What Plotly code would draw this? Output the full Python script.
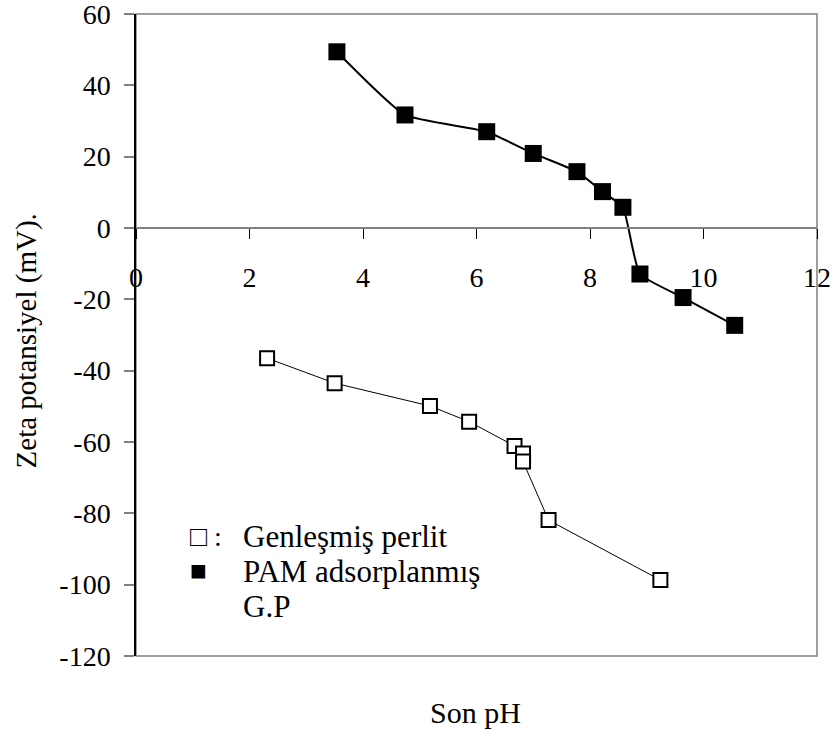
import plotly.graph_objects as go

# Data
ph_pam = [3.54, 4.74, 6.18, 7.00, 7.77, 8.22, 8.58, 8.88, 9.64, 10.55]
zeta_pam = [49.4, 31.7, 27.0, 20.9, 15.8, 10.2, 5.8, -12.9, -19.5, -27.3]

ph_gp = [2.31, 3.50, 5.18, 5.87, 6.67, 6.82, 6.82, 7.27, 9.24]
zeta_gp = [-36.5, -43.5, -49.9, -54.3, -61.1, -63.2, -65.5, -81.9, -98.7]

x_ticks = [0, 2, 4, 6, 8, 10, 12]
y_ticks = [60, 40, 20, 0, -20, -40, -60, -80, -100, -120]

FONT = "Liberation Serif, Times New Roman, serif"

fig = go.Figure()
fig.add_trace(go.Scatter(
    x=ph_gp, y=zeta_gp, mode="lines+markers",
    line=dict(color="black", width=1),
    marker=dict(symbol="square", size=14, color="white",
                line=dict(color="black", width=2)),
    name="Genleşmiş perlit", showlegend=False))
fig.add_trace(go.Scatter(
    x=ph_pam, y=zeta_pam, mode="lines+markers",
    line=dict(color="black", width=2, shape="spline", smoothing=0.45),
    marker=dict(symbol="square", size=17, color="black",
                line=dict(color="black", width=0)),
    name="PAM adsorplanmış G.P", showlegend=False))

fig.update_layout(
    width=837, height=737,
    margin=dict(l=136, r=20, t=14, b=81, autoexpand=False),
    paper_bgcolor="white", plot_bgcolor="white",
    font=dict(family=FONT, size=28, color="black"),
    xaxis=dict(range=[0, 12], tickvals=x_ticks, ticktext=[str(v) for v in x_ticks],
               anchor="free", position=2/3, showgrid=False, zeroline=False,
               showline=True, linecolor="#808080", linewidth=1.5,
               ticks="outside", ticklen=10, tickcolor="black", tickwidth=1,
               ticklabelstandoff=15, automargin=False,
               tickfont=dict(family=FONT, size=28)),
    yaxis=dict(range=[-120, 60], tickvals=y_ticks, ticktext=[str(v) for v in y_ticks],
               showgrid=False, zeroline=False,
               showline=True, linecolor="black", linewidth=1.5,
               ticks="outside", ticklen=10, tickcolor="#808080", tickwidth=1.5,
               ticklabelstandoff=8, ticklabeloverflow="allow", automargin=False,
               tickfont=dict(family=FONT, size=28)),
    shapes=[dict(type="rect", xref="paper", yref="paper", x0=0, x1=1, y0=0, y1=1,
                 line=dict(color="#808080", width=1.5), layer="below")],
)

annotations = [
    dict(text="Zeta potansiyel (mV).", textangle=-90, xref="paper", yref="paper",
         x=-0.1615, y=0.49, xanchor="center", yanchor="middle", showarrow=False,
         font=dict(family=FONT, size=29)),
    dict(text="Son pH", xref="paper", yref="paper", x=0.4985, y=-0.088,
         xanchor="center", yanchor="middle", showarrow=False,
         font=dict(family=FONT, size=30)),
    dict(text="□ :", xref="paper", yref="paper", x=(188 - 136) / 681, y=(656 - 536) / 642,
         xanchor="left", yanchor="middle", showarrow=False,
         font=dict(family=FONT, size=28)),
    dict(text="■", xref="paper", yref="paper", x=(188 - 136) / 681, y=(656 - 570) / 642,
         xanchor="left", yanchor="middle", showarrow=False,
         font=dict(family=FONT, size=28)),
    dict(text="Genleşmiş perlit", xref="paper", yref="paper", x=(241 - 136) / 681,
         y=(656 - 536) / 642, xanchor="left", yanchor="middle", showarrow=False,
         font=dict(family=FONT, size=31)),
    dict(text="PAM adsorplanmış", xref="paper", yref="paper", x=(241 - 136) / 681,
         y=(656 - 571) / 642, xanchor="left", yanchor="middle", showarrow=False,
         font=dict(family=FONT, size=31)),
    dict(text="G.P", xref="paper", yref="paper", x=(241 - 136) / 681,
         y=(656 - 606) / 642, xanchor="left", yanchor="middle", showarrow=False,
         font=dict(family=FONT, size=31)),
]
fig.update_layout(annotations=annotations)

fig.write_html("out.html")
